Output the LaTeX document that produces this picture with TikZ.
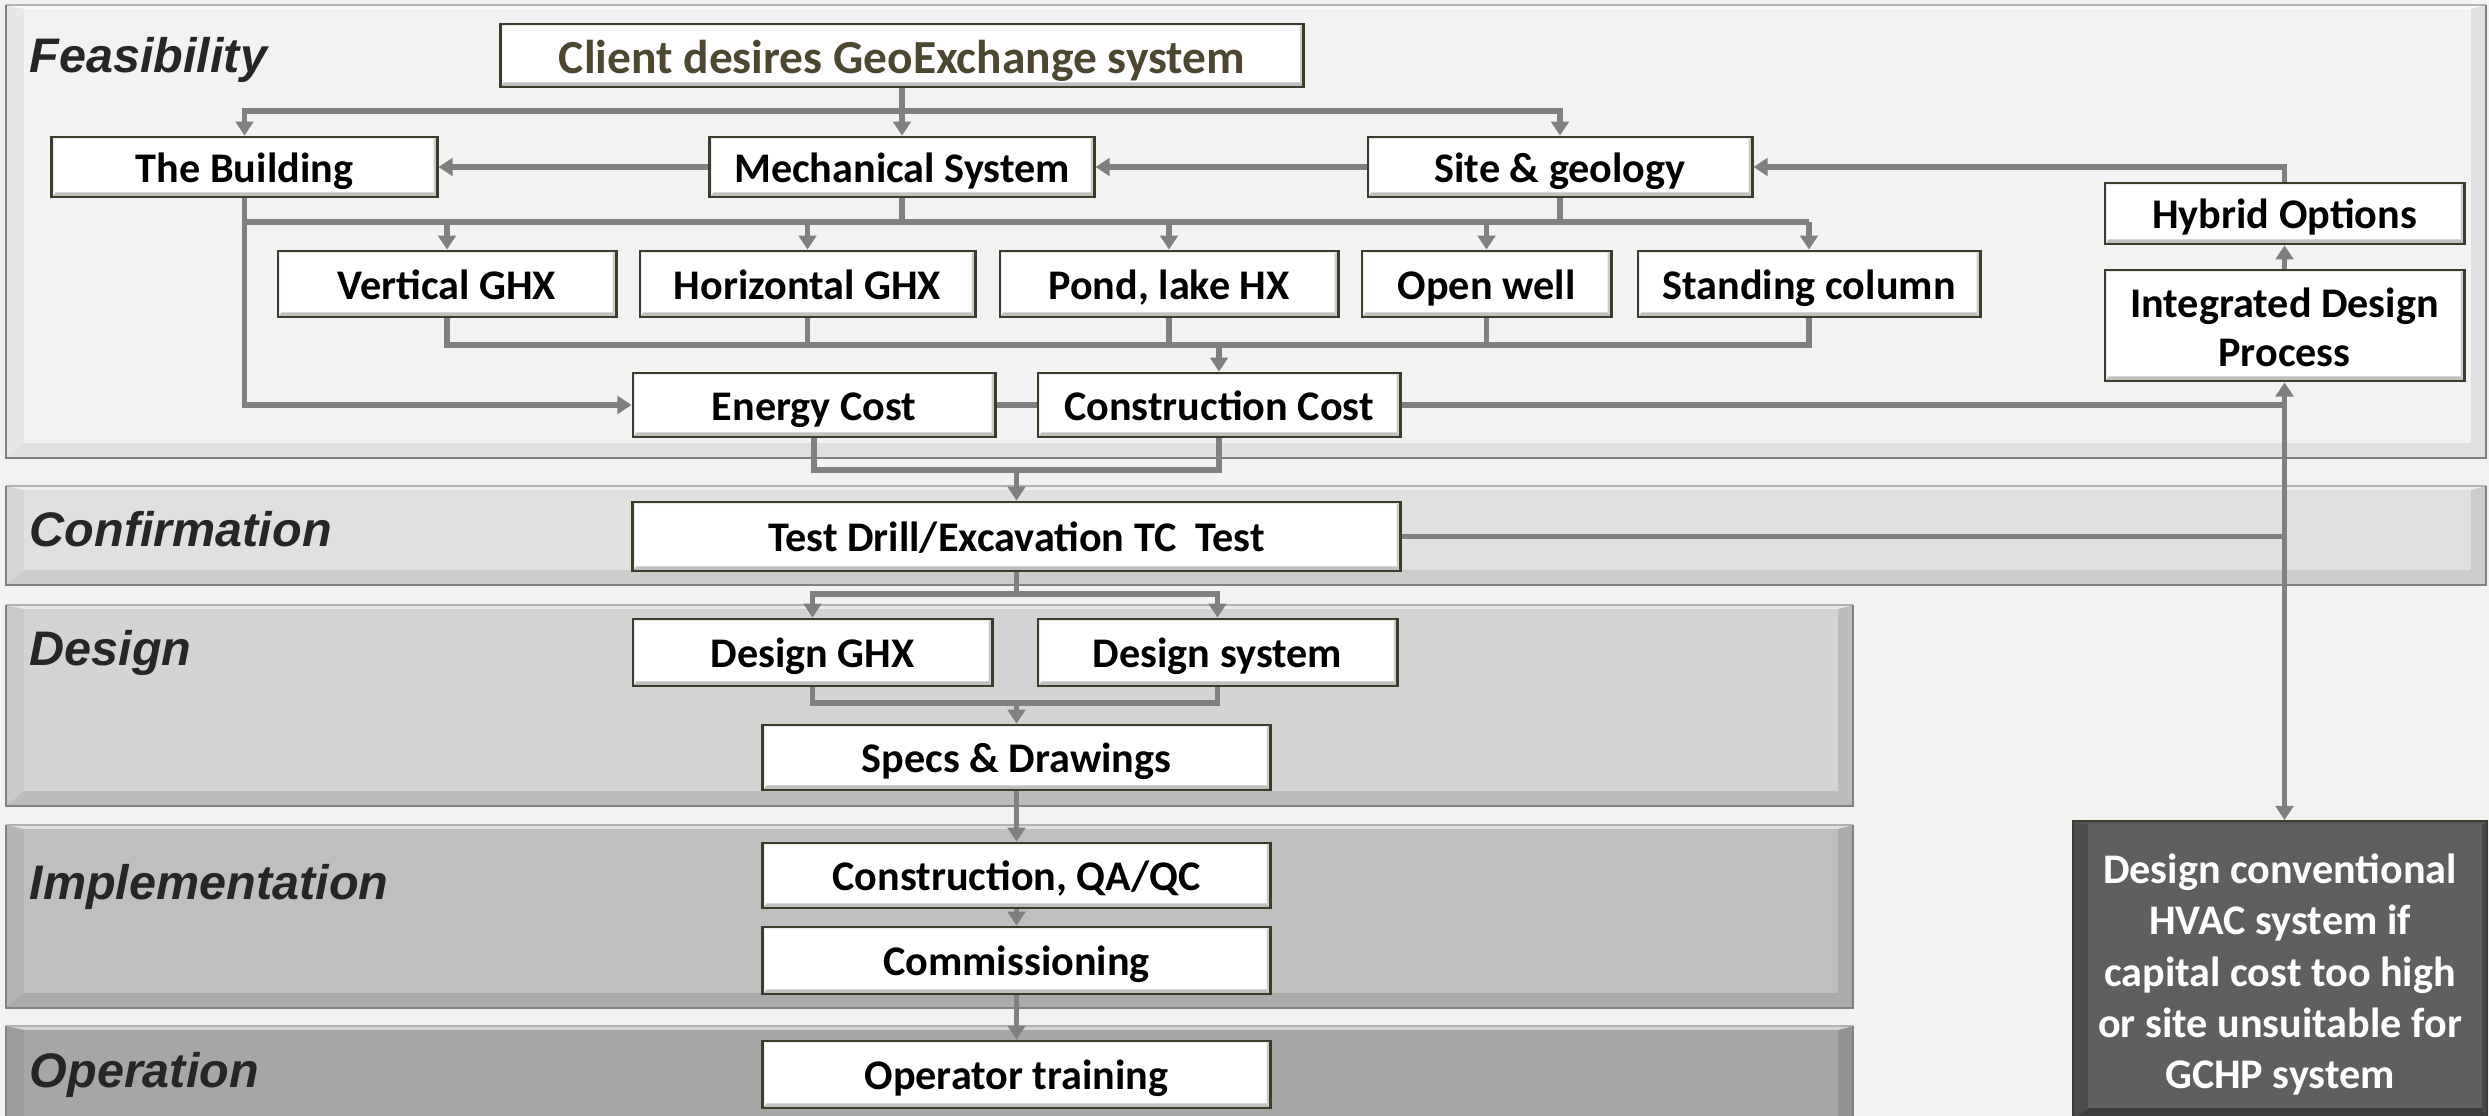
\documentclass[tikz,border=0pt]{standalone}
\usepackage{fontspec}
\setmainfont{Carlito}
\newfontfamily\labfont{Liberation Sans}
\usetikzlibrary{arrows.meta}
\definecolor{bgc}{HTML}{F2F2F2}
\definecolor{conn}{HTML}{808080}
\definecolor{boxline}{HTML}{3D3B29}
\definecolor{clienttxt}{HTML}{4D4731}
\definecolor{labc}{HTML}{262626}
\definecolor{fmain}{HTML}{F2F2F2}\definecolor{fleft}{HTML}{E7E7E7}\definecolor{fdark}{HTML}{E0E0E0}
\definecolor{cmain}{HTML}{E0E0E0}\definecolor{cleft}{HTML}{D6D6D6}\definecolor{cdark}{HTML}{CCCCCC}
\definecolor{dmain}{HTML}{D3D3D3}\definecolor{dleft}{HTML}{C9C9C9}\definecolor{ddark}{HTML}{BCBCBC}
\definecolor{imain}{HTML}{BFBFBF}\definecolor{ileft}{HTML}{B5B5B5}\definecolor{idark}{HTML}{ABABAB}
\definecolor{omain}{HTML}{A6A6A6}\definecolor{oleft}{HTML}{9C9C9C}\definecolor{odark}{HTML}{939393}
\definecolor{hvfill}{HTML}{5F5F5F}
\newcommand\stageband[7]{%
  \fill[#7] (#1,#2) rectangle (#3,#4);
  \fill[#6] (#1,#2) -- (#1+18,#2+4) -- (#1+18,#4-15) -- (#1,#4) -- cycle;
  \fill[#5!50!white] (#1,#2) -- (#3,#2) -- (#3-15,#2+4) -- (#1+18,#2+4) -- cycle;
  \fill[#5] (#1+18,#2+4) rectangle (#3-15,#4-15);
  \draw[black!30, line width=0.4pt] (#1,#2) -- (#3,#2);
  \draw[black!50, line width=0.8pt] (#1,#2) -- (#1,#4) -- (#3,#4) -- (#3,#2);
}
\tikzset{
  x=0.01cm, y=-0.01cm,
  box/.style={draw=boxline, line width=0.8pt, fill=white,
    font=\bfseries\fontsize{12}{14}\selectfont, text height=9.8pt, text depth=1.2pt, inner sep=0pt,
    path picture={
      \fill[black!25] (path picture bounding box.south west) -- (path picture bounding box.south east)
        -- ([shift={(-1pt,1.3pt)}]path picture bounding box.south east)
        -- ([shift={(1pt,1.3pt)}]path picture bounding box.south west) -- cycle;
      \fill[black!20] (path picture bounding box.south east) -- (path picture bounding box.north east)
        -- ([shift={(-1pt,-0.6pt)}]path picture bounding box.north east)
        -- ([shift={(-1pt,1.3pt)}]path picture bounding box.south east) -- cycle;
      \fill[black!8] (path picture bounding box.north west) -- (path picture bounding box.north east)
        -- ([shift={(-1pt,-0.6pt)}]path picture bounding box.north east)
        -- ([shift={(0.6pt,-0.6pt)}]path picture bounding box.north west) -- cycle;
      \fill[black!8] (path picture bounding box.north west)
        -- ([shift={(0.6pt,-0.6pt)}]path picture bounding box.north west)
        -- ([shift={(0.6pt,1.3pt)}]path picture bounding box.south west)
        -- (path picture bounding box.south west) -- cycle;
    }},
  hvac/.style={draw=boxline, line width=0.5pt, fill=hvfill, text=white, align=center,
    font=\bfseries\fontsize{12}{14.6}\selectfont, inner sep=0pt,
    path picture={
      \fill[black!76] (path picture bounding box.south west) -- (path picture bounding box.south east)
        -- ([shift={(-1.4pt,3.1pt)}]path picture bounding box.south east)
        -- ([shift={(4.3pt,3.1pt)}]path picture bounding box.south west) -- cycle;
      \fill[black!72] (path picture bounding box.south east) -- (path picture bounding box.north east)
        -- ([shift={(-1.4pt,-1pt)}]path picture bounding box.north east)
        -- ([shift={(-1.4pt,3.1pt)}]path picture bounding box.south east) -- cycle;
      \fill[black!70] (path picture bounding box.north west)
        -- ([shift={(4.3pt,-1pt)}]path picture bounding box.north west)
        -- ([shift={(4.3pt,3.1pt)}]path picture bounding box.south west)
        -- (path picture bounding box.south west) -- cycle;
      \fill[black!66] (path picture bounding box.north west) -- (path picture bounding box.north east)
        -- ([shift={(-1.4pt,-1pt)}]path picture bounding box.north east)
        -- ([shift={(4.3pt,-1pt)}]path picture bounding box.north west) -- cycle;
    }},
  ln/.style={draw=conn, line width=1.6pt},
  arr/.style={ln, -{Triangle[length=4pt,width=5pt]}},
  darr/.style={ln, {Triangle[length=4pt,width=5pt]}-{Triangle[length=4pt,width=5pt]}},
  stage/.style={font=\labfont\bfseries\itshape\fontsize{13.8}{16}\selectfont, text=labc,
    anchor=base west, inner sep=0pt},
}
\begin{document}
\begin{tikzpicture}
\useasboundingbox (0,0) rectangle (2489,1116);
\fill[bgc] (0,0) rectangle (2489,1116);
% stage bands
\stageband{6}{5}{2486}{458}{fmain}{fleft}{fdark}
\stageband{6}{486}{2486}{585}{cmain}{cleft}{cdark}
\stageband{6}{605}{1853}{806}{dmain}{dleft}{ddark}
\stageband{6}{825}{1853}{1008}{imain}{ileft}{idark}
\stageband{6}{1026}{1853}{1135}{omain}{oleft}{odark}
% stage labels
\node[stage] (lfeas) at (29,73) {Feasibility};
\node[stage] (lconf) at (29,547) {Confirmation};
\node[stage] (ldes) at (29,665) {Design};
\node[stage] (limp) at (29,899) {Implementation};
\node[stage] (lop) at (29,1087) {Operation};
% boxes
\node[box, minimum width=8.03cm, minimum height=0.63cm, font=\bfseries\fontsize{13.5}{16}\selectfont, text=clienttxt, text height=11.6pt, text depth=1.2pt] (client) at (902,55.5) {Client desires GeoExchange system};
\node[box, minimum width=3.85cm, minimum height=0.60cm] (building) at (244.5,167) {The Building};
\node[box, minimum width=3.84cm, minimum height=0.60cm] (mech) at (902,167) {Mechanical System};
\node[box, minimum width=3.84cm, minimum height=0.60cm] (site) at (1560,167) {Site \& geology};
\node[box, minimum width=3.38cm, minimum height=0.66cm] (vghx) at (447,284) {Vertical GHX};
\node[box, minimum width=3.35cm, minimum height=0.66cm] (hghx) at (807.5,284) {Horizontal GHX};
\node[box, minimum width=3.38cm, minimum height=0.66cm] (pond) at (1169,284) {Pond, lake HX};
\node[box, minimum width=2.49cm, minimum height=0.66cm] (openwell) at (1486.5,284) {Open well};
\node[box, minimum width=3.42cm, minimum height=0.66cm] (standing) at (1809,284) {Standing column};
\node[box, minimum width=3.62cm, minimum height=0.64cm] (energy) at (814,405) {Energy Cost};
\node[box, minimum width=3.62cm, minimum height=0.64cm] (ccost) at (1219,405) {Construction Cost};
\node[box, minimum width=3.59cm, minimum height=0.61cm] (hybrid) at (2284.5,213.5) {Hybrid Options};
\node[box, minimum width=3.59cm, minimum height=1.11cm, align=center, text height=, text depth=, font=\bfseries\fontsize{12}{13.9}\selectfont] (idp) at (2284.5,325.5) {\rule{0pt}{9.5pt}Integrated Design\\Process};
\node[box, minimum width=7.67cm, minimum height=0.69cm] (test) at (1016.5,536.5) {Test Drill/Excavation TC\ \ Test};
\node[box, minimum width=3.59cm, minimum height=0.67cm] (dghx) at (812.5,652.5) {Design GHX};
\node[box, minimum width=3.59cm, minimum height=0.67cm] (dsys) at (1217.5,652.5) {Design system};
\node[box, minimum width=5.07cm, minimum height=0.65cm] (specs) at (1016.5,757.5) {Specs \& Drawings};
\node[box, minimum width=5.07cm, minimum height=0.65cm] (constr) at (1016.5,875.5) {Construction, QA/QC};
\node[box, minimum width=5.07cm, minimum height=0.67cm] (comm) at (1016.5,960.5) {Commissioning};
\node[box, minimum width=5.07cm, minimum height=0.67cm] (oper) at (1016.5,1074.5) {Operator training};
\node[hvac, minimum width=4.14cm, minimum height=2.98cm] (hvac) at (2280,970) {\rule{0pt}{11pt}Design conventional\\HVAC system if\\capital cost too high\\or site unsuitable for\\GCHP system};
% connectors
\draw[arr] (client.south) -- (mech.north);
\draw[arr] (client.south |- 0,111) -| (building.north);
\draw[arr] (client.south |- 0,111) -| (site.north);
\draw[arr] (mech.west) -- (building.east);
\draw[arr] (site.west) -- (mech.east);
\draw[arr] (hybrid.north) |- (site.east);
\draw[arr] (idp.north) -- (hybrid.south);
\draw[ln] (mech.south) -- (mech.south |- 0,222);
\draw[ln] (site.south) -- (site.south |- 0,222);
\draw[arr] (building.south) |- (energy.west);
\draw[ln] (building.south |- 0,222) -- (standing.north |- 0,222);
\foreach \n in {vghx,hghx,pond,openwell,standing} \draw[arr] (\n.north |- 0,222) -- (\n.north);
\draw[ln] (vghx.south) |- (standing.south |- 0,345) -- (standing.south);
\foreach \n in {hghx,pond,openwell} \draw[ln] (\n.south) -- (\n.south |- 0,345);
\draw[arr] (ccost.north |- 0,345) -- (ccost.north);
\draw[ln] (energy.east) -- (ccost.west);
\draw[ln] (ccost.east) -- (ccost.east -| idp.south);
\draw[ln] (test.east) -- (test.east -| idp.south);
\draw[darr] (idp.south) -- (idp.south |- hvac.north);
\draw[ln] (energy.south) |- (ccost.south |- 0,470) -- (ccost.south);
\draw[arr] (test.north |- 0,470) -- (test.north);
\draw[ln] (test.south) -- (test.south |- 0,594);
\draw[arr] (test.south |- 0,594) -| (dghx.north);
\draw[arr] (test.south |- 0,594) -| (dsys.north);
\draw[ln] (dghx.south) |- (dsys.south |- 0,703) -- (dsys.south);
\draw[arr] (specs.north |- 0,703) -- (specs.north);
\draw[arr] (specs.south) -- (constr.north);
\draw[arr] (constr.south) -- (comm.north);
\draw[arr] (comm.south) -- (oper.north);
\end{tikzpicture}
\end{document}
